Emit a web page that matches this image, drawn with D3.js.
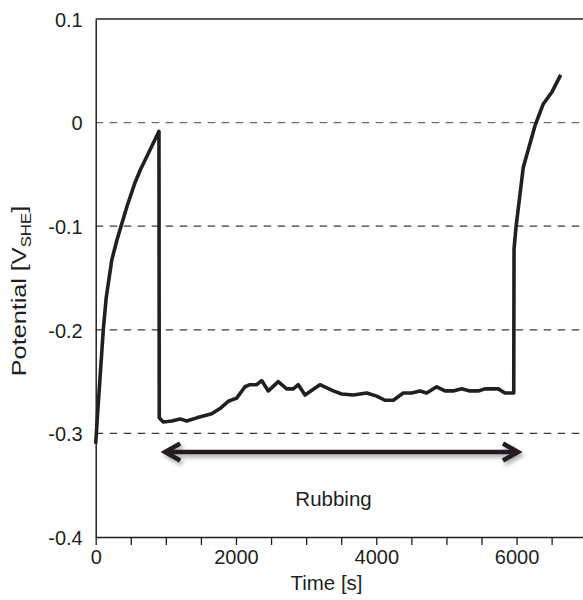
<!DOCTYPE html>
<html>
<head>
<meta charset="utf-8">
<script src="https://cdn.jsdelivr.net/npm/d3@7"></script>
<style>
  html, body { margin: 0; padding: 0; background: #fff; }
  svg text { font-family: "Liberation Sans", Arial, Helvetica, sans-serif; fill: #231f20; }
</style>
</head>
<body>
<svg id="chart" width="583" height="600"></svg>
<script>
// ---- data ----
const timeS = [0, 30, 60, 108, 150, 228, 300, 361, 450, 560, 640, 727, 820, 902,
  906, 964, 1083, 1202, 1297, 1440, 1654, 1772, 1890, 2010, 2128, 2200, 2295, 2366, 2461,
  2603, 2722, 2817, 2888, 2984, 3197, 3387, 3506, 3672, 3863, 4006, 4124, 4243, 4385,
  4504, 4623, 4718, 4861, 4980, 5098, 5217, 5336, 5454, 5550, 5739, 5835, 5960,
  5964, 5992, 6096, 6263, 6381, 6500, 6629];
const potentialV = [-0.31, -0.278, -0.248, -0.200, -0.169, -0.133, -0.114, -0.100, -0.080, -0.058, -0.045, -0.033, -0.020, -0.0084,
  -0.285, -0.289, -0.288, -0.286, -0.288, -0.285, -0.281, -0.276, -0.269, -0.266, -0.255, -0.253, -0.253, -0.249, -0.259,
  -0.250, -0.257, -0.257, -0.253, -0.263, -0.253, -0.259, -0.262, -0.263, -0.261, -0.264, -0.268, -0.268, -0.261,
  -0.261, -0.259, -0.261, -0.255, -0.259, -0.259, -0.257, -0.259, -0.259, -0.257, -0.257, -0.261, -0.261,
  -0.122, -0.101, -0.043, -0.003, 0.018, 0.029, 0.046];
const xTickValues = [0, 500, 1000, 1500, 2000, 2500, 3000, 3500, 4000, 4500, 5000, 5500, 6000, 6500];
const xTickLabels = ["0", "", "", "", "2000", "", "", "", "4000", "", "", "", "6000", ""];
const yTickValues = [0.1, 0, -0.1, -0.2, -0.3, -0.4];
const yTickLabels = ["0.1", "0", "-0.1", "-0.2", "-0.3", "-0.4"];
const gridValues = [0, -0.1, -0.2, -0.3];
const rubbingStart = 990, rubbingEnd = 6020, rubbingLevel = -0.318;
const rubbingLabel = "Rubbing";
const xTitle = "Time [s]";

// ---- layout ----
const svg = d3.select("#chart");
const mLeft = 95.7, mTop = 19, mBottom = 537, mRight = 586.7;
const x = d3.scaleLinear().domain([0, 7000]).range([mLeft, mRight]);
const y = d3.scaleLinear().domain([-0.4, 0.1]).range([mBottom, mTop]);
const ink = "#231f20";

const defs = svg.append("defs");
const f = defs.append("filter").attr("id", "shadow").attr("x", "-10%").attr("y", "-100%").attr("width", "120%").attr("height", "300%");
f.append("feDropShadow").attr("dx", 2).attr("dy", 3).attr("stdDeviation", 2)
  .attr("flood-color", "#000").attr("flood-opacity", 0.35);

// grid lines
svg.append("g").selectAll("line").data(gridValues).join("line")
  .attr("x1", mLeft).attr("x2", 583)
  .attr("y1", d => y(d)).attr("y2", d => y(d))
  .attr("stroke", (d, i) => i === 0 ? "#6a6a6a" : "#3a3a3a")
  .attr("stroke-width", 1.2)
  .attr("stroke-dasharray", "7.5,6.5");

// top frame
svg.append("line").attr("x1", mLeft).attr("x2", mRight).attr("y1", mTop).attr("y2", mTop)
  .attr("stroke", ink).attr("stroke-width", 1.5);

// x axis
const xAxis = d3.axisBottom(x).tickValues(xTickValues)
  .tickFormat((d, i) => xTickLabels[i]).tickSize(8).tickPadding(3).tickSizeOuter(0);
const gx = svg.append("g").attr("transform", `translate(0,${mBottom})`).call(xAxis);
gx.select(".domain").attr("stroke", ink).attr("stroke-width", 1.5);
gx.selectAll(".tick line").attr("stroke", ink).attr("stroke-width", 1.3);
gx.selectAll(".tick text").attr("font-size", 20).attr("fill", ink).attr("dy", "0.78em");

// y axis
const yAxis = d3.axisLeft(y).tickValues(yTickValues)
  .tickFormat((d, i) => yTickLabels[i]).tickSize(0).tickPadding(13).tickSizeOuter(0);
const gy = svg.append("g").attr("transform", `translate(${mLeft},0)`).call(yAxis);
gy.select(".domain").attr("stroke", ink).attr("stroke-width", 1.5);
gy.selectAll(".tick text").attr("font-size", 20).attr("fill", ink).attr("dy", "0.36em");

// data line
const line = d3.line().x((d, i) => x(timeS[i])).y(d => y(d));
svg.append("path").datum(potentialV)
  .attr("d", line)
  .attr("fill", "none").attr("stroke", ink).attr("stroke-width", 3.6)
  .attr("stroke-linejoin", "round").attr("stroke-linecap", "butt");

// rubbing arrow
const ax1 = x(rubbingStart), ax2 = x(rubbingEnd), ay = y(rubbingLevel);
const arrowG = svg.append("g").attr("filter", "url(#shadow)")
  .attr("fill", "none").attr("stroke", ink).attr("stroke-width", 4.5).attr("stroke-linecap", "butt").attr("stroke-linejoin", "miter");
arrowG.append("line").attr("x1", ax1 + 2).attr("x2", ax2 - 2).attr("y1", ay).attr("y2", ay);
arrowG.append("path").attr("d", `M${ax1 + 15},${ay - 8.5} L${ax1},${ay} L${ax1 + 15},${ay + 8.5}`);
arrowG.append("path").attr("d", `M${ax2 - 15},${ay - 8.5} L${ax2},${ay} L${ax2 - 15},${ay + 8.5}`);

svg.append("text").attr("x", (ax1 + ax2) / 2 - 8).attr("y", 506)
  .attr("text-anchor", "middle").attr("font-size", 20.5).text(rubbingLabel);

// axis titles
svg.append("text").attr("x", 326.5).attr("y", 590)
  .attr("text-anchor", "middle").attr("font-size", 20.5).text(xTitle);

const yt = svg.append("text").attr("transform", "translate(26,291) rotate(-90) scale(1.2,1)")
  .attr("text-anchor", "middle").attr("font-size", 21);
yt.append("tspan").text("Potential [V");
yt.append("tspan").attr("font-size", 14).attr("dy", 5).text("SHE");
yt.append("tspan").attr("dy", -5).text("]");
</script>
</body>
</html>
